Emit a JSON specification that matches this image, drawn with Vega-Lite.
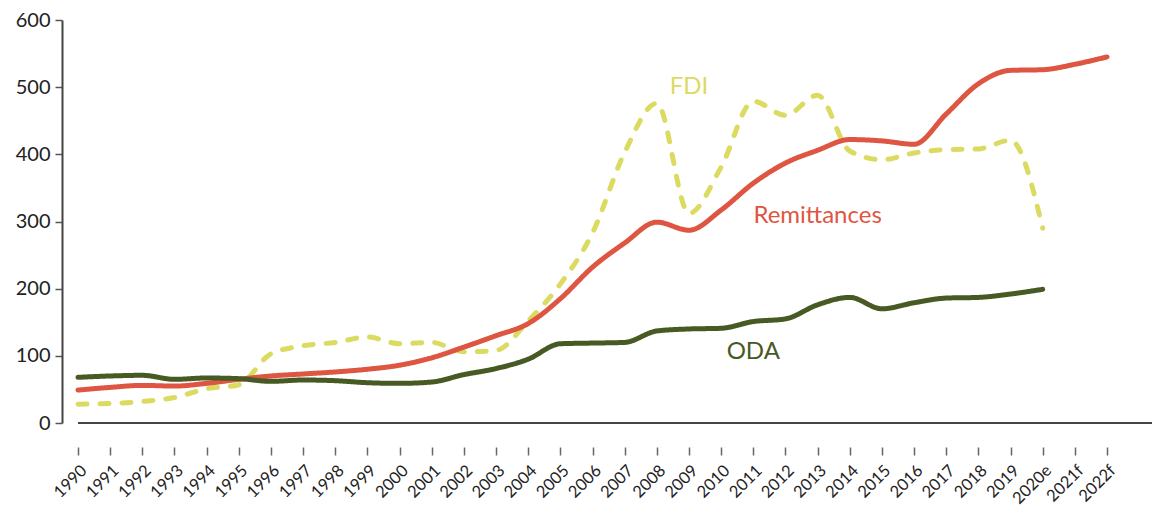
{
  "$schema": "https://vega.github.io/schema/vega-lite/v6.json",
  "width": 1090,
  "height": 403,
  "autosize": "none",
  "padding": {"left": 62, "top": 20, "right": 6, "bottom": 85},
  "background": "white",
  "config": {"view": {"stroke": null}, "font": "Lato"},
  "datasets": {
    "series": [
      {"year": "1990", "series": "FDI", "value": 28}, {"year": "1991", "series": "FDI", "value": 29},
      {"year": "1992", "series": "FDI", "value": 32}, {"year": "1993", "series": "FDI", "value": 38},
      {"year": "1994", "series": "FDI", "value": 51}, {"year": "1995", "series": "FDI", "value": 57},
      {"year": "1996", "series": "FDI", "value": 103}, {"year": "1997", "series": "FDI", "value": 115},
      {"year": "1998", "series": "FDI", "value": 120}, {"year": "1999", "series": "FDI", "value": 128},
      {"year": "2000", "series": "FDI", "value": 118}, {"year": "2001", "series": "FDI", "value": 120},
      {"year": "2002", "series": "FDI", "value": 106}, {"year": "2003", "series": "FDI", "value": 108},
      {"year": "2004", "series": "FDI", "value": 152}, {"year": "2005", "series": "FDI", "value": 207},
      {"year": "2006", "series": "FDI", "value": 283}, {"year": "2007", "series": "FDI", "value": 403},
      {"year": "2008", "series": "FDI", "value": 476}, {"year": "2009", "series": "FDI", "value": 312},
      {"year": "2010", "series": "FDI", "value": 381}, {"year": "2011", "series": "FDI", "value": 479},
      {"year": "2012", "series": "FDI", "value": 458}, {"year": "2013", "series": "FDI", "value": 488},
      {"year": "2014", "series": "FDI", "value": 405}, {"year": "2015", "series": "FDI", "value": 392},
      {"year": "2016", "series": "FDI", "value": 402}, {"year": "2017", "series": "FDI", "value": 407},
      {"year": "2018", "series": "FDI", "value": 408}, {"year": "2019", "series": "FDI", "value": 421},
      {"year": "2020e", "series": "FDI", "value": 290},
      {"year": "1990", "series": "Remittances", "value": 49}, {"year": "1991", "series": "Remittances", "value": 53},
      {"year": "1992", "series": "Remittances", "value": 56}, {"year": "1993", "series": "Remittances", "value": 55},
      {"year": "1994", "series": "Remittances", "value": 59}, {"year": "1995", "series": "Remittances", "value": 65},
      {"year": "1996", "series": "Remittances", "value": 70}, {"year": "1997", "series": "Remittances", "value": 73},
      {"year": "1998", "series": "Remittances", "value": 76}, {"year": "1999", "series": "Remittances", "value": 80},
      {"year": "2000", "series": "Remittances", "value": 86}, {"year": "2001", "series": "Remittances", "value": 97},
      {"year": "2002", "series": "Remittances", "value": 113}, {"year": "2003", "series": "Remittances", "value": 130},
      {"year": "2004", "series": "Remittances", "value": 148}, {"year": "2005", "series": "Remittances", "value": 185},
      {"year": "2006", "series": "Remittances", "value": 232}, {"year": "2007", "series": "Remittances", "value": 268},
      {"year": "2008", "series": "Remittances", "value": 299}, {"year": "2009", "series": "Remittances", "value": 287},
      {"year": "2010", "series": "Remittances", "value": 317}, {"year": "2011", "series": "Remittances", "value": 357},
      {"year": "2012", "series": "Remittances", "value": 387}, {"year": "2013", "series": "Remittances", "value": 406},
      {"year": "2014", "series": "Remittances", "value": 422}, {"year": "2015", "series": "Remittances", "value": 420},
      {"year": "2016", "series": "Remittances", "value": 415}, {"year": "2017", "series": "Remittances", "value": 460},
      {"year": "2018", "series": "Remittances", "value": 505}, {"year": "2019", "series": "Remittances", "value": 525},
      {"year": "2020e", "series": "Remittances", "value": 526}, {"year": "2021f", "series": "Remittances", "value": 534},
      {"year": "2022f", "series": "Remittances", "value": 545},
      {"year": "1990", "series": "ODA", "value": 68}, {"year": "1991", "series": "ODA", "value": 70},
      {"year": "1992", "series": "ODA", "value": 71}, {"year": "1993", "series": "ODA", "value": 65},
      {"year": "1994", "series": "ODA", "value": 67}, {"year": "1995", "series": "ODA", "value": 66},
      {"year": "1996", "series": "ODA", "value": 62}, {"year": "1997", "series": "ODA", "value": 64},
      {"year": "1998", "series": "ODA", "value": 63}, {"year": "1999", "series": "ODA", "value": 60},
      {"year": "2000", "series": "ODA", "value": 59}, {"year": "2001", "series": "ODA", "value": 61},
      {"year": "2002", "series": "ODA", "value": 72}, {"year": "2003", "series": "ODA", "value": 81},
      {"year": "2004", "series": "ODA", "value": 95}, {"year": "2005", "series": "ODA", "value": 118},
      {"year": "2006", "series": "ODA", "value": 119}, {"year": "2007", "series": "ODA", "value": 120},
      {"year": "2008", "series": "ODA", "value": 137}, {"year": "2009", "series": "ODA", "value": 140},
      {"year": "2010", "series": "ODA", "value": 141}, {"year": "2011", "series": "ODA", "value": 151},
      {"year": "2012", "series": "ODA", "value": 155}, {"year": "2013", "series": "ODA", "value": 176},
      {"year": "2014", "series": "ODA", "value": 187}, {"year": "2015", "series": "ODA", "value": 170},
      {"year": "2016", "series": "ODA", "value": 179}, {"year": "2017", "series": "ODA", "value": 186},
      {"year": "2018", "series": "ODA", "value": 187}, {"year": "2019", "series": "ODA", "value": 192},
      {"year": "2020e", "series": "ODA", "value": 199}
    ],
    "labels": [
      {"year": "2009", "series": "FDI", "value": 500, "label": "FDI"},
      {"year": "2013", "series": "Remittances", "value": 308, "label": "Remittances"},
      {"year": "2011", "series": "ODA", "value": 106, "label": "ODA"}
    ]
  },
  "layer": [
    {
      "data": {"name": "series"},
      "mark": {"type": "rule", "color": "#444444", "strokeWidth": 2, "x2Offset": 45},
      "encoding": {
        "x": {"datum": "1990", "type": "ordinal"},
        "x2": {"datum": "2022f"},
        "y": {"datum": 0, "type": "quantitative"}
      }
    },
    {
      "data": {"name": "series"},
      "mark": {"type": "line", "interpolate": "monotone", "strokeWidth": 5, "strokeCap": "round"},
      "encoding": {
        "x": {
          "field": "year", "type": "ordinal",
          "sort": null,
          "scale": {"type": "point", "padding": 0, "domain": ["1990","1991","1992","1993","1994","1995","1996","1997","1998","1999","2000","2001","2002","2003","2004","2005","2006","2007","2008","2009","2010","2011","2012","2013","2014","2015","2016","2017","2018","2019","2020e","2021f","2022f"], "range": [16, 1045]},
          "axis": {
            "title": null, "domain": false, "offset": 24, "tickSize": 8, "tickColor": "#666666", "tickWidth": 1.5,
            "labelAngle": -45, "labelAlign": "right", "labelBaseline": "top", "labelFontSize": 16.5, "labelColor": "#222222", "labelPadding": 7, "labelFont": "Lato"
          }
        },
        "y": {
          "field": "value", "type": "quantitative",
          "scale": {"domain": [0, 600], "nice": false},
          "axis": {
            "title": null, "grid": false, "values": [0, 100, 200, 300, 400, 500, 600],
            "domainColor": "#444444", "domainWidth": 2, "tickColor": "#555555", "tickSize": 7, "tickWidth": 1.5,
            "labelFontSize": 20, "labelColor": "#222222", "labelPadding": 5, "labelFont": "Lato"
          }
        },
        "color": {
          "field": "series", "type": "nominal",
          "scale": {"domain": ["FDI", "Remittances", "ODA"], "range": ["#dbdb62", "#de5642", "#475a24"]},
          "legend": null
        },
        "strokeDash": {
          "field": "series", "type": "nominal",
          "scale": {"domain": ["FDI", "Remittances", "ODA"], "range": [[9, 13], [1, 0], [1, 0]]},
          "legend": null
        }
      }
    },
    {
      "data": {"name": "labels"},
      "mark": {"type": "text", "fontSize": 24, "font": "Lato", "align": "center", "baseline": "middle"},
      "encoding": {
        "x": {"field": "year", "type": "ordinal"},
        "y": {"field": "value", "type": "quantitative"},
        "text": {"field": "label"},
        "color": {"field": "series", "type": "nominal", "legend": null}
      }
    }
  ]
}
